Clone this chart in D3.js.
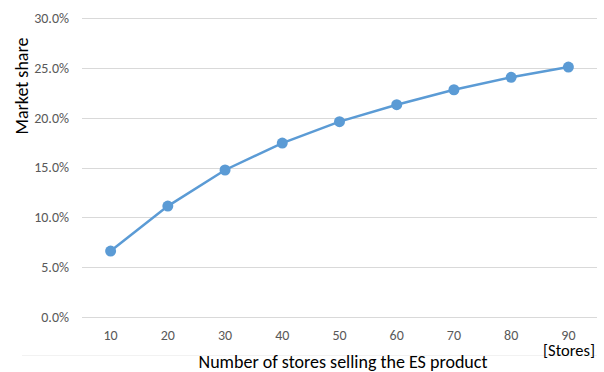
<!DOCTYPE html>
<html>
<head>
<meta charset="utf-8">
<script src="https://cdn.jsdelivr.net/npm/d3@7"></script>
<style>
  body { margin: 0; background: #fff; }
  svg { font-family: Calibri, Carlito, "Open Sans", sans-serif; }
</style>
</head>
<body>
<script>
var stores = [10, 20, 30, 40, 50, 60, 70, 80, 90];
var share = [0.0662, 0.1113, 0.1475, 0.1745, 0.1960, 0.2130, 0.2280, 0.2405, 0.2508];
var yTicks = [0, 0.05, 0.10, 0.15, 0.20, 0.25, 0.30];

var width = 604, height = 372;
var margin = {left: 82, right: 7, top: 18, bottom: 55};

var svg = d3.select("body").append("svg")
    .attr("width", width)
    .attr("height", height);

var xScale = d3.scaleBand()
    .domain(stores)
    .range([margin.left, width - margin.right]);

var yScale = d3.scaleLinear()
    .domain([0, 0.30])
    .range([height - margin.bottom, margin.top]);

// gridlines
svg.append("g")
    .selectAll("line")
    .data(yTicks)
    .enter()
    .append("line")
    .attr("x1", margin.left)
    .attr("x2", width - margin.right)
    .attr("y1", function(d){ return Math.round(yScale(d)) + 0.5; })
    .attr("y2", function(d){ return Math.round(yScale(d)) + 0.5; })
    .attr("stroke", "#d9d9d9")
    .attr("stroke-width", 1.2);

// y tick labels
svg.append("g")
    .selectAll("text")
    .data(yTicks)
    .enter()
    .append("text")
    .attr("x", 69)
    .attr("y", function(d){ return yScale(d); })
    .attr("dy", "0.35em")
    .attr("text-anchor", "end")
    .attr("font-size", 14)
    .attr("fill", "#595959")
    .text(function(d){ return d3.format(".1%")(d); });

// x tick labels
svg.append("g")
    .selectAll("text")
    .data(stores)
    .enter()
    .append("text")
    .attr("x", function(d){ return xScale(d) + xScale.bandwidth() / 2; })
    .attr("y", 340)
    .attr("text-anchor", "middle")
    .attr("font-size", 14)
    .attr("fill", "#595959")
    .text(function(d){ return d; });

// faint bottom border
svg.append("line")
    .attr("x1", 22).attr("x2", width - margin.right)
    .attr("y1", 355.5).attr("y2", 355.5)
    .attr("stroke", "#f2f2f2");

var line = d3.line()
    .x(function(d, i){ return xScale(stores[i]) + xScale.bandwidth() / 2; })
    .y(function(d){ return yScale(d); });

svg.append("path")
    .datum(share)
    .attr("d", line)
    .attr("fill", "none")
    .attr("stroke", "#5b9bd5")
    .attr("stroke-width", 2.5);

svg.append("g")
    .selectAll("circle")
    .data(share)
    .enter()
    .append("circle")
    .attr("cx", function(d, i){ return xScale(stores[i]) + xScale.bandwidth() / 2; })
    .attr("cy", function(d){ return yScale(d); })
    .attr("r", 5.5)
    .attr("fill", "#5b9bd5");

// axis titles
svg.append("text")
    .text("Market share")
    .attr("text-anchor", "middle")
    .attr("font-size", 18)
    .attr("fill", "#000")
    .attr("transform", "translate(28,86) rotate(-90)");

svg.append("text")
    .text("Number of stores selling the ES product")
    .attr("x", 343)
    .attr("y", 368)
    .attr("text-anchor", "middle")
    .attr("font-size", 18)
    .attr("fill", "#000");

svg.append("text")
    .text("[Stores]")
    .attr("x", 595)
    .attr("y", 356)
    .attr("text-anchor", "end")
    .attr("font-size", 16.5)
    .attr("fill", "#000");
</script>
</body>
</html>
